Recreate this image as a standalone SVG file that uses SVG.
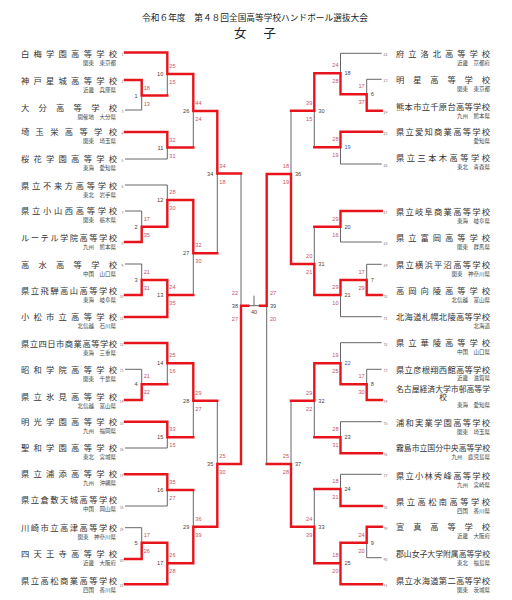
<svg xmlns="http://www.w3.org/2000/svg" width="512" height="600" viewBox="0 0 512 600">
<style>
text{font-family:"Noto Sans CJK JP","Noto Sans",sans-serif}
.t{font-size:8.7px;fill:#222}
.h{font-size:12.5px;fill:#222}
.n{font-size:8.3px;fill:#333}
.n2{font-size:7.6px;fill:#333}
.r{font-size:5.5px;fill:#444;text-anchor:end}
.k{font-size:3.4px;fill:#777}
.s{font-size:5.6px;fill:#c8506a;font-family:"Liberation Sans",sans-serif}
.m{font-size:5.6px;fill:#444;font-family:"Liberation Sans",sans-serif}
.mb{font-size:5.6px;fill:#4a5fb0;font-family:"Liberation Sans",sans-serif}
.e{text-anchor:end}
.c{text-anchor:middle}
.g{stroke:#555;stroke-width:0.9;fill:none}
.red{stroke:#e8141c;stroke-width:2.4;fill:none;stroke-linecap:square;stroke-linejoin:miter}
</style>
<rect width="512" height="600" fill="#fff"/>
<g id="title">
<text class="t c" x="255" y="21.3">令和６年度　第４８回全国高等学校ハンドボール選抜大会</text>
<text class="h" x="234" y="37.5" textLength="42" lengthAdjust="spacing">女　子</text>
</g>
<g id="connectors">
<g class="g">
<path d="M125 110H141.7M125 159H167.3M125 185H167.3M125 211H141.7M125 264H141.7M125 369.3H141.7M125 448H167.3M125 506H167.3M125 527.7H141.7"/>
<path d="M141.7 95.5V110M167.3 74V95.5M167.3 147.5V159M193.3 111V147.5M217.3 173.5V253.3M167.3 185V200M141.7 211V226.7M141.7 264V280M193.3 253.3V295M141.7 369.3V384.3M167.3 363.3V384.3M167.3 437.3V448M193.3 400.7V437.3M217.3 400.7V464M167.3 490V506M141.7 527.7V542.7M193.3 490V526.7M241 173.5V305.7"/>
<path d="M340.5 53.3H381.7M366.7 79.3H381.7M340.5 164H381.7M340.5 242H381.7M366.7 264.3H381.7M340.5 316.7H381.7M340.5 342.7H381.7M366.7 369.3H381.7M340.5 421.7H381.7M340.5 474.3H381.7M366.7 557.7H381.7"/>
<path d="M366.7 79.3V94.3M340.5 53.3V73.3M340.5 147.3V164M314.3 110.7V147.3M291 110.7V174M340.5 226.7V242M366.7 264.3V280M340.5 295V316.7M314.3 226.7V264M366.7 369.3V384.3M340.5 342.7V363.3M340.5 421.7V437.3M314.3 400.7V437.3M291 400.7V464M340.5 474.3V489M366.7 542.7V557.7M314.3 489V526.7M266.7 305.7V464"/>
<path d="M248.3 305.7H260M254 295.7V305.7"/>
</g>
<g class="red">
<path d="M125 52.5H167.3V74H193.3V111H217.3V173.5H241"/>
<path d="M125 80H141.7V95.5H167.3"/>
<path d="M125 132H167.3V147.5H193.3"/>
<path d="M125 242H141.7V226.7H167.3V200H193.3V253.3H217.3"/>
<path d="M125 295H141.7V280H167.3V317H125M167.3 295H193.3"/>
<path d="M125 343H167.3V363.3H193.3V400.7H217.3"/>
<path d="M125 400H141.7V384.3H167.3"/>
<path d="M125 421.7H167.3V437.3H193.3"/>
<path d="M125 474.3H167.3V490H193.3"/>
<path d="M125 559H141.7V542.7H167.3V584.3H125M167.3 563.3H193.3V526.7H217.3V464H241V305.7H248.3"/>
<path d="M381.7 110.7H366.7V94.3H340.5V73.3H314.3V110.7H291"/>
<path d="M381.7 131.7H340.5V147.3H314.3"/>
<path d="M381.7 211H340.5V226.7H314.3"/>
<path d="M381.7 295H366.7V280H340.5V295H314.3V264H291V174H266.7V305.7H260"/>
<path d="M381.7 400H366.7V384.3H340.5V363.3H314.3V400.7H291"/>
<path d="M381.7 453.3H340.5V437.3H314.3"/>
<path d="M381.7 506H340.5V489H314.3"/>
<path d="M381.7 526.7H366.7V542.7H340.5V584.3H381.7M340.5 563.3H314.3V526.7H291V464H266.7"/>
</g>
</g>
<g id="match-labels">
<text class="m e" x="137.7" y="97.5">1</text><text class="s" x="143.7" y="89.5">18</text><text class="s" x="143.7" y="105.5">13</text>
<text class="m e" x="163.3" y="76">10</text><text class="s" x="169.3" y="68">25</text><text class="s" x="169.3" y="84">15</text>
<text class="m e" x="163.3" y="149.5">11</text><text class="s" x="169.3" y="141.5">32</text><text class="s" x="169.3" y="157.5">31</text>
<text class="m e" x="189.3" y="113">26</text><text class="s" x="195.3" y="105">44</text><text class="s" x="195.3" y="121">24</text>
<text class="m e" x="213.3" y="175.5">34</text><text class="s" x="219.3" y="167.5">34</text><text class="s" x="219.3" y="183.5">18</text>
<text class="m e" x="163.3" y="202">12</text><text class="s" x="169.3" y="194">28</text><text class="s" x="169.3" y="210">30</text>
<text class="m e" x="137.7" y="228.7">2</text><text class="s" x="143.7" y="220.7">17</text><text class="s" x="143.7" y="236.7">35</text>
<text class="m e" x="137.7" y="282">3</text><text class="s" x="143.7" y="274">21</text><text class="s" x="143.7" y="290">31</text>
<text class="m e" x="163.3" y="297">13</text><text class="s" x="169.3" y="289">24</text><text class="s" x="169.3" y="305">35</text>
<text class="m e" x="189.3" y="255.3">27</text><text class="s" x="195.3" y="247.3">32</text><text class="s" x="195.3" y="263.3">30</text>
<text class="m e" x="137.7" y="386.3">4</text><text class="s" x="143.7" y="378.3">21</text><text class="s" x="143.7" y="394.3">22</text>
<text class="m e" x="163.3" y="365.3">14</text><text class="s" x="169.3" y="357.3">25</text><text class="s" x="169.3" y="373.3">16</text>
<text class="m e" x="163.3" y="439.3">15</text><text class="s" x="169.3" y="431.3">33</text><text class="s" x="169.3" y="447.3">15</text>
<text class="m e" x="189.3" y="402.7">28</text><text class="s" x="195.3" y="394.7">29</text><text class="s" x="195.3" y="410.7">27</text>
<text class="m e" x="213.3" y="466">35</text><text class="s" x="219.3" y="458">25</text><text class="s" x="219.3" y="474">30</text>
<text class="m e" x="163.3" y="492">16</text><text class="s" x="169.3" y="484">35</text><text class="s" x="169.3" y="500">27</text>
<text class="m e" x="137.7" y="544.7">5</text><text class="s" x="143.7" y="536.7">17</text><text class="s" x="143.7" y="552.7">26</text>
<text class="m e" x="163.3" y="565.3">17</text><text class="s" x="169.3" y="557.3">26</text><text class="s" x="169.3" y="573.3">28</text>
<text class="m e" x="189.3" y="528.7">29</text><text class="s" x="195.3" y="520.7">36</text><text class="s" x="195.3" y="536.7">39</text>
<text class="s e" x="238" y="295">22</text><text class="m e" x="238" y="307.7">38</text><text class="s e" x="238" y="321">27</text>
<text class="s" x="270" y="295">27</text><text class="m" x="270" y="307.7">39</text><text class="s" x="270" y="321">20</text>
<text class="m c" x="254" y="313.5">40</text>
<text class="m" x="370.7" y="96.3">6</text><text class="s e" x="364.7" y="88.3">17</text><text class="s e" x="364.7" y="104.3">37</text>
<text class="m" x="344.5" y="75.3">18</text><text class="s e" x="338.5" y="67.3">24</text><text class="s e" x="338.5" y="83.3">28</text>
<text class="mb" x="344.5" y="149.3">19</text><text class="s e" x="338.5" y="141.3">28</text><text class="s e" x="338.5" y="157.3">19</text>
<text class="m" x="318.3" y="112.7">30</text><text class="s e" x="312.3" y="104.7">39</text><text class="s e" x="312.3" y="120.7">15</text>
<text class="m" x="295" y="176">36</text><text class="s e" x="289" y="168">18</text><text class="s e" x="289" y="184">19</text>
<text class="m" x="344.5" y="228.7">20</text><text class="s e" x="338.5" y="220.7">29</text><text class="s e" x="338.5" y="236.7">16</text>
<text class="m" x="370.7" y="282">7</text><text class="s e" x="364.7" y="274">17</text><text class="s e" x="364.7" y="290">29</text>
<text class="m" x="344.5" y="297">21</text><text class="s e" x="338.5" y="289">29</text><text class="s e" x="338.5" y="305">10</text>
<text class="m" x="318.3" y="266">31</text><text class="s e" x="312.3" y="258">20</text><text class="s e" x="312.3" y="274">21</text>
<text class="m" x="370.7" y="386.3">8</text><text class="s e" x="364.7" y="378.3">17</text><text class="s e" x="364.7" y="394.3">30</text>
<text class="mb" x="344.5" y="365.3">22</text><text class="s e" x="338.5" y="357.3">19</text><text class="s e" x="338.5" y="373.3">25</text>
<text class="m" x="344.5" y="439.3">23</text><text class="s e" x="338.5" y="431.3">28</text><text class="s e" x="338.5" y="447.3">31</text>
<text class="m" x="318.3" y="402.7">32</text><text class="s e" x="312.3" y="394.7">29</text><text class="s e" x="312.3" y="410.7">22</text>
<text class="m" x="295" y="466">37</text><text class="s e" x="289" y="458">25</text><text class="s e" x="289" y="474">28</text>
<text class="m" x="344.5" y="491">24</text><text class="s e" x="338.5" y="483">18</text><text class="s e" x="338.5" y="499">21</text>
<text class="m" x="370.7" y="544.7">9</text><text class="s e" x="364.7" y="536.7">24</text><text class="s e" x="364.7" y="552.7">20</text>
<text class="m" x="344.5" y="565.3">25</text><text class="s e" x="338.5" y="557.3">18</text><text class="s e" x="338.5" y="573.3">20</text>
<text class="m" x="318.3" y="528.7">33</text><text class="s e" x="312.3" y="520.7">24</text><text class="s e" x="312.3" y="536.7">39</text>
</g>
<g id="team-1"><text class="n" x="21" y="56.8" textLength="96" lengthAdjust="spacing">白梅学園高等学校</text><text class="r" x="116" y="64.8">関東　東京都</text><text class="k e" x="123.5" y="55.5">1</text></g>
<g id="team-2"><text class="n" x="21" y="83.8" textLength="96" lengthAdjust="spacing">神戸星城高等学校</text><text class="r" x="116" y="91.8">近畿　兵庫県</text><text class="k e" x="123.5" y="83">2</text></g>
<g id="team-3"><text class="n" x="21" y="110.8" textLength="96" lengthAdjust="spacing">大分高等学校</text><text class="r" x="116" y="118.8">開催地　大分県</text><text class="k e" x="123.5" y="113">3</text></g>
<g id="team-4"><text class="n" x="21" y="134.8" textLength="96" lengthAdjust="spacing">埼玉栄高等学校</text><text class="r" x="116" y="142.8">関東　埼玉県</text><text class="k e" x="123.5" y="135">4</text></g>
<g id="team-5"><text class="n" x="21" y="161.8" textLength="96" lengthAdjust="spacing">桜花学園高等学校</text><text class="r" x="116" y="169.8">東海　愛知県</text><text class="k e" x="123.5" y="162">5</text></g>
<g id="team-6"><text class="n" x="21" y="188.8" textLength="96" lengthAdjust="spacing">県立不来方高等学校</text><text class="r" x="116" y="196.8">東北　岩手県</text><text class="k e" x="123.5" y="188">6</text></g>
<g id="team-7"><text class="n" x="21" y="213.8" textLength="96" lengthAdjust="spacing">県立小山西高等学校</text><text class="r" x="116" y="221.8">関東　栃木県</text><text class="k e" x="123.5" y="214">7</text></g>
<g id="team-8"><text class="n" x="21" y="240.8" textLength="96" lengthAdjust="spacing">ルーテル学院高等学校</text><text class="r" x="116" y="248.8">九州　熊本県</text><text class="k e" x="123.5" y="245">8</text></g>
<g id="team-9"><text class="n" x="21" y="267.8" textLength="96" lengthAdjust="spacing">高水高等学校</text><text class="r" x="116" y="275.8">中国　山口県</text><text class="k e" x="123.5" y="267">9</text></g>
<g id="team-10"><text class="n" x="21" y="293.8" textLength="96" lengthAdjust="spacing">県立飛騨高山高等学校</text><text class="r" x="116" y="301.8">東海　岐阜県</text><text class="k e" x="123.5" y="298">10</text></g>
<g id="team-11"><text class="n" x="21" y="319.8" textLength="96" lengthAdjust="spacing">小松市立高等学校</text><text class="r" x="116" y="327.8">北信越　石川県</text><text class="k e" x="123.5" y="320">11</text></g>
<g id="team-12"><text class="n" x="21" y="346.8" textLength="96" lengthAdjust="spacing">県立四日市商業高等学校</text><text class="r" x="116" y="354.8">東海　三重県</text><text class="k e" x="123.5" y="346">12</text></g>
<g id="team-13"><text class="n" x="21" y="372.8" textLength="96" lengthAdjust="spacing">昭和学院高等学校</text><text class="r" x="116" y="380.8">関東　千葉県</text><text class="k e" x="123.5" y="372">13</text></g>
<g id="team-14"><text class="n" x="21" y="399.8" textLength="96" lengthAdjust="spacing">県立氷見高等学校</text><text class="r" x="116" y="407.8">北信越　富山県</text><text class="k e" x="123.5" y="403">14</text></g>
<g id="team-15"><text class="n" x="21" y="424.8" textLength="96" lengthAdjust="spacing">明光学園高等学校</text><text class="r" x="116" y="432.8">九州　福岡県</text><text class="k e" x="123.5" y="424.5">15</text></g>
<g id="team-16"><text class="n" x="21" y="450.8" textLength="96" lengthAdjust="spacing">聖和学園高等学校</text><text class="r" x="116" y="458.8">東北　宮城県</text><text class="k e" x="123.5" y="451">16</text></g>
<g id="team-17"><text class="n" x="21" y="476.8" textLength="96" lengthAdjust="spacing">県立浦添高等学校</text><text class="r" x="116" y="484.8">九州　沖縄県</text><text class="k e" x="123.5" y="477">17</text></g>
<g id="team-18"><text class="n" x="21" y="502.8" textLength="96" lengthAdjust="spacing">県立倉敷天城高等学校</text><text class="r" x="116" y="510.8">中国　岡山県</text><text class="k e" x="123.5" y="509">18</text></g>
<g id="team-19"><text class="n" x="21" y="530.8" textLength="96" lengthAdjust="spacing">川崎市立高津高等学校</text><text class="r" x="116" y="538.8">関東　神奈川県</text><text class="k e" x="123.5" y="530.5">19</text></g>
<g id="team-20"><text class="n" x="21" y="556.8" textLength="96" lengthAdjust="spacing">四天王寺高等学校</text><text class="r" x="116" y="564.8">近畿　大阪府</text><text class="k e" x="123.5" y="562">20</text></g>
<g id="team-21"><text class="n" x="21" y="583.8" textLength="96" lengthAdjust="spacing">県立高松商業高等学校</text><text class="r" x="116" y="591.8">四国　香川県</text><text class="k e" x="123.5" y="587">21</text></g>
<g id="team-22"><text class="n" x="396" y="56.8" textLength="94" lengthAdjust="spacing">府立洛北高等学校</text><text class="r" x="490" y="64.8">近畿　京都府</text><text class="k" x="383.5" y="56">22</text></g>
<g id="team-23"><text class="n" x="396" y="82.8" textLength="94" lengthAdjust="spacing">明星高等学校</text><text class="r" x="490" y="90.8">関東　東京都</text><text class="k" x="383.5" y="82">23</text></g>
<g id="team-24"><text class="n" x="396" y="109.5" textLength="94" lengthAdjust="spacing">熊本市立千原台高等学校</text><text class="r" x="490" y="117.5">九州　熊本県</text><text class="k" x="383.5" y="113.5">24</text></g>
<g id="team-25"><text class="n" x="396" y="134.5" textLength="94" lengthAdjust="spacing">県立愛知商業高等学校</text><text class="r" x="490" y="142.5">愛知県</text><text class="k" x="383.5" y="134.5">25</text></g>
<g id="team-26"><text class="n" x="396" y="161.1" textLength="94" lengthAdjust="spacing">県立三本木高等学校</text><text class="r" x="490" y="169.1">東北　青森県</text><text class="k" x="383.5" y="166.8">26</text></g>
<g id="team-27"><text class="n" x="396" y="214.5" textLength="94" lengthAdjust="spacing">県立岐阜商業高等学校</text><text class="r" x="490" y="222.5">東海　岐阜県</text><text class="k" x="383.5" y="213.8">27</text></g>
<g id="team-28"><text class="n" x="396" y="240.8" textLength="94" lengthAdjust="spacing">県立富岡高等学校</text><text class="r" x="490" y="248.8">関東　群馬県</text><text class="k" x="383.5" y="244.8">28</text></g>
<g id="team-29"><text class="n" x="396" y="267.8" textLength="94" lengthAdjust="spacing">県立横浜平沼高等学校</text><text class="r" x="490" y="275.8">関東　神奈川県</text><text class="k" x="383.5" y="267">29</text></g>
<g id="team-30"><text class="n" x="396" y="293.8" textLength="94" lengthAdjust="spacing">高岡向陵高等学校</text><text class="r" x="490" y="301.8">北信越　富山県</text><text class="k" x="383.5" y="297.8">30</text></g>
<g id="team-31"><text class="n" x="396" y="319.5" textLength="94" lengthAdjust="spacing">北海道札幌北陵高等学校</text><text class="r" x="490" y="327.5">北海道</text><text class="k" x="383.5" y="319.5">31</text></g>
<g id="team-32"><text class="n" x="396" y="346.1" textLength="94" lengthAdjust="spacing">県立華陵高等学校</text><text class="r" x="490" y="354.1">中国　山口県</text><text class="k" x="383.5" y="345.5">32</text></g>
<g id="team-33"><text class="n" x="396" y="372.8" textLength="94" lengthAdjust="spacing">県立彦根翔西館高等学校</text><text class="r" x="490" y="380.3">近畿　滋賀県</text><text class="k" x="383.5" y="372">33</text></g>
<g id="team-34"><text class="n2" x="396" y="392.3" textLength="94" lengthAdjust="spacingAndGlyphs">名古屋経済大学市邨高等学</text><text class="n2 c" x="443" y="400.3">校</text><text class="r" x="490" y="407.3">東海　愛知県</text><text class="k" x="383.5" y="402.8">34</text></g>
<g id="team-35"><text class="n" x="396" y="425.5" textLength="94" lengthAdjust="spacing">浦和実業学園高等学校</text><text class="r" x="490" y="433.5">関東　埼玉県</text><text class="k" x="383.5" y="424.5">35</text></g>
<g id="team-36"><text class="n" x="396" y="450.5" textLength="94" lengthAdjust="spacingAndGlyphs">霧島市立国分中央高等学校</text><text class="r" x="490" y="458.5">九州　鹿児島県</text><text class="k" x="383.5" y="456">36</text></g>
<g id="team-37"><text class="n" x="396" y="478.5" textLength="94" lengthAdjust="spacing">県立小林秀峰高等学校</text><text class="r" x="490" y="486.5">九州　宮崎県</text><text class="k" x="383.5" y="477">37</text></g>
<g id="team-38"><text class="n" x="396" y="504.5" textLength="94" lengthAdjust="spacing">県立高松南高等学校</text><text class="r" x="490" y="512.5">四国　香川県</text><text class="k" x="383.5" y="508.8">38</text></g>
<g id="team-39"><text class="n" x="396" y="529.5" textLength="94" lengthAdjust="spacing">宣真高等学校</text><text class="r" x="490" y="537.5">近畿　大阪府</text><text class="k" x="383.5" y="529.5">39</text></g>
<g id="team-40"><text class="n" x="396" y="556.8" textLength="94" lengthAdjust="spacingAndGlyphs">郡山女子大学附属高等学校</text><text class="r" x="490" y="564.8">東北　福島県</text><text class="k" x="383.5" y="560.5">40</text></g>
<g id="team-41"><text class="n" x="396" y="583.8" textLength="94" lengthAdjust="spacing">県立水海道第二高等学校</text><text class="r" x="490" y="591.8">関東　茨城県</text><text class="k" x="383.5" y="587">41</text></g>
</svg>
